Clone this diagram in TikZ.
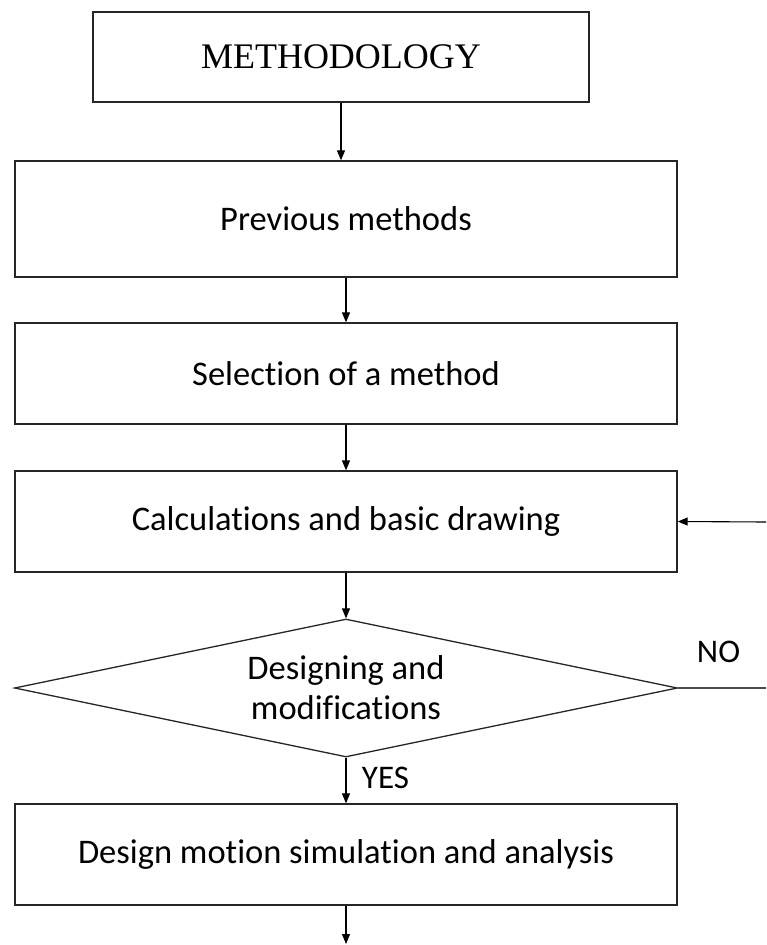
\documentclass[tikz,border=0pt]{standalone}
\usepackage{fontspec}
\setmainfont{Carlito}[RawFeature={-liga}]
\newfontfamily\titlefont{Liberation Serif}
\usetikzlibrary{shapes.geometric,arrows.meta}

\begin{document}
\begin{tikzpicture}[
    x=1pt, y=-1pt,
    font=\fontsize{34.5}{40}\selectfont,
    procbox/.style={
        draw=black!85, line width=1.3pt,
        minimum width=662pt, minimum height=101pt,
        inner sep=0pt, align=center
    },
    decision/.style={
        draw=black!85, line width=1.3pt, diamond, aspect=4.8,
        minimum width=663pt, minimum height=138pt,
        inner sep=0pt, align=center
    },
    arrow/.style={-{Triangle[length=10pt,width=8pt]}, line width=1.1pt},
    lbl/.style={inner sep=0pt, font=\fontsize{33}{38}\selectfont}
]
\useasboundingbox (0,0) rectangle (766,945);

% Boxes from top to bottom
\node[procbox, minimum width=496pt, minimum height=90pt,
      font=\titlefont\fontsize{36}{40}\selectfont] (title) at (341,57) {METHODOLOGY};
\node[procbox, minimum height=116pt] (prev) at (346,219) {Previous methods};
\node[procbox] (select) at (346,373.5) {Selection of a method};
\node[procbox] (calc) at (346,521.5) {Calculations and basic drawing};
\node[decision] (design) at (346,688) {Designing and\\modifications};
\node[procbox] (sim) at (346,854.5) {Design motion simulation and analysis};

% Loose ends at the picture edge
\coordinate (noend) at (766,688);
\coordinate (backin) at (766,522);
\coordinate (down) at (346,944);

\draw[arrow] (title.south) -- (title.south |- prev.north);
\draw[arrow] (prev.south) -- (select.north);
\draw[arrow] (select.south) -- (calc.north);
\draw[arrow] (calc.south) -- (design.north);
\draw[arrow] (design.south) -- (sim.north);
\draw[arrow] (sim.south) -- (down);

% NO branch back to the calculations
\draw[line width=1.3pt, black!70] (design.east) -- (noend);
\draw[arrow] (backin) -- (calc.east);

\node[lbl] (no) at (718.5,651.5) {NO};
\node[lbl] (yes) at (385.5,778) {YES};

\end{tikzpicture}
\end{document}
